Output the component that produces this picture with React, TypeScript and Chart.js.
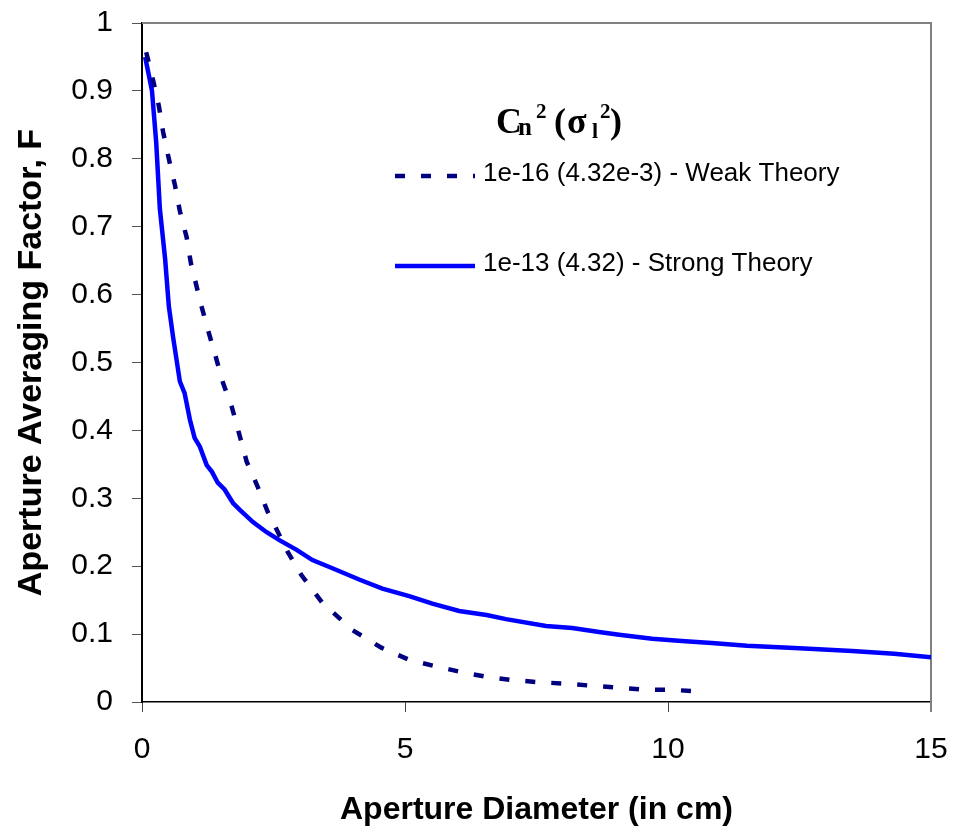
import React, { useEffect, useRef } from "react";
import { Chart, registerables } from "chart.js";

Chart.register(...registerables);

// Weak theory (Cn2 = 1e-16)
const weakX = [0.08, 0.21, 0.32, 0.4, 0.51, 0.63, 0.72, 0.85, 0.93, 1.0, 1.12, 1.25, 1.4, 1.54, 1.71, 1.84, 1.99, 2.2, 2.39, 2.56, 2.77, 3.03, 3.43, 4.0, 4.55, 5.08, 5.56, 6.07, 6.56, 7.08, 7.58, 8.06, 8.54, 9.05, 9.58, 10.06, 10.7];
const weakY = [0.957, 0.916, 0.878, 0.84, 0.8, 0.76, 0.723, 0.684, 0.646, 0.624, 0.586, 0.549, 0.509, 0.47, 0.434, 0.397, 0.354, 0.317, 0.28, 0.254, 0.221, 0.187, 0.146, 0.106, 0.08, 0.062, 0.053, 0.044, 0.037, 0.032, 0.029, 0.027, 0.024, 0.021, 0.018, 0.018, 0.015];

// Strong theory (Cn2 = 1e-13)
const strongX = [0.06, 0.19, 0.27, 0.34, 0.44, 0.51, 0.59, 0.72, 0.81, 0.91, 1.0, 1.1, 1.23, 1.33, 1.44, 1.57, 1.73, 1.86, 2.11, 2.37, 2.62, 2.94, 3.24, 3.62, 4.14, 4.57, 5.08, 5.52, 6.03, 6.55, 6.92, 7.68, 8.18, 8.69, 9.07, 9.7, 10.26, 10.83, 11.5, 12.5, 13.5, 14.3, 15];
const strongY = [0.95, 0.9, 0.824, 0.726, 0.652, 0.583, 0.538, 0.472, 0.455, 0.416, 0.389, 0.376, 0.349, 0.339, 0.323, 0.313, 0.293, 0.283, 0.265, 0.25, 0.238, 0.224, 0.209, 0.197, 0.18, 0.167, 0.156, 0.145, 0.134, 0.128, 0.122, 0.112, 0.109, 0.103, 0.099, 0.093, 0.09, 0.087, 0.083, 0.079, 0.075, 0.071, 0.066];

const seriesLabels = ["1e-16 (4.32e-3) - Weak Theory", "1e-13 (4.32) - Strong Theory"];
const seriesColors = ["#000080", "#0000FF"];
const xTitle = "Aperture Diameter (in cm)";
const yTitle = "Aperture Averaging Factor, F";

const SANS = "'Liberation Sans', Arial, sans-serif";
const SERIF = "'Liberation Serif', 'Times New Roman', serif";

export default function App() {
  const ref = useRef<HTMLCanvasElement>(null);

  useEffect(() => {
    if (!ref.current) return;

    const framePlugin = {
      id: "frame",
      beforeDatasetsDraw(chart: any) {
        const { ctx, chartArea: a } = chart;
        ctx.save();
        ctx.strokeStyle = "#808080";
        ctx.lineWidth = 2;
        ctx.beginPath();
        ctx.moveTo(a.left, a.top);
        ctx.lineTo(a.right, a.top);
        ctx.lineTo(a.right, a.bottom + 10);
        ctx.stroke();
        ctx.restore();
      },
    };

    const legendPlugin = {
      id: "customLegend",
      afterDraw(chart: any) {
        const ctx = chart.ctx as CanvasRenderingContext2D;
        ctx.save();
        ctx.fillStyle = "#000";
        ctx.textBaseline = "alphabetic";
        ctx.textAlign = "left";
        // Title: Cn^2 (σl^2)
        const runs: [string, number, number, number][] = [
          ["C", 36, 496, 133],
          ["n", 25, 518, 135],
          ["2", 21, 536, 118],
          ["(", 36, 554, 133],
          ["σ", 36, 567, 133],
          ["l", 22, 592, 138],
          ["2", 21, 600, 118],
          [")", 36, 610, 133],
        ];
        for (const [t, s, x, y] of runs) {
          ctx.font = `bold ${s}px ${SERIF}`;
          ctx.fillText(t, x, y);
        }
        // Entries
        const entries = [
          { y: 176, dash: [10, 16] },
          { y: 266, dash: [] as number[] },
        ];
        entries.forEach((e, i) => {
          ctx.strokeStyle = seriesColors[i];
          ctx.lineWidth = 4.5;
          ctx.setLineDash(e.dash);
          ctx.lineCap = "butt";
          ctx.beginPath();
          ctx.moveTo(395, e.y);
          ctx.lineTo(475, e.y);
          ctx.stroke();
          ctx.setLineDash([]);
          ctx.font = `26px ${SANS}`;
          ctx.fillStyle = "#000";
          ctx.textBaseline = "middle";
          ctx.fillText(seriesLabels[i], 483, e.y - 2);
        });
        ctx.restore();
      },
    };

    const chart = new Chart(ref.current, {
      type: "line",
      data: {
        datasets: [
          {
            label: seriesLabels[0],
            data: weakX.map((x, i) => ({ x, y: weakY[i] })),
            borderColor: seriesColors[0],
            borderWidth: 4.5,
            borderDash: [10, 16],
            borderCapStyle: "butt",
            pointRadius: 0,
            tension: 0,
            fill: false,
          },
          {
            label: seriesLabels[1],
            data: strongX.map((x, i) => ({ x, y: strongY[i] })),
            borderColor: seriesColors[1],
            borderWidth: 4.5,
            pointRadius: 0,
            tension: 0,
            fill: false,
          },
        ],
      },
      options: {
        animation: false,
        responsive: false,
        maintainAspectRatio: false,
        layout: { padding: { top: 23, right: 23, left: 0, bottom: 0 } },
        plugins: {
          legend: { display: false },
          tooltip: { enabled: false },
        },
        scales: {
          x: {
            type: "linear",
            min: 0,
            max: 15,
            afterFit: (s: any) => {
              s.height = 128;
              s.paddingLeft = 0;
              s.paddingRight = 0;
            },
            border: { display: true, color: "#000", width: 1.5 },
            grid: {
              display: true,
              drawOnChartArea: false,
              drawTicks: true,
              tickLength: 10,
              tickColor: "#444",
            },
            ticks: {
              stepSize: 5,
              color: "#000",
              padding: 20,
              maxRotation: 0,
              font: { family: SANS, size: 30 },
            },
            title: {
              display: true,
              text: xTitle,
              color: "#000",
              font: { family: SANS, size: 32, weight: "bold" },
              padding: { top: 0, bottom: 1 },
            },
          },
          y: {
            type: "linear",
            min: 0,
            max: 1,
            afterFit: (s: any) => {
              s.width = 142;
              s.paddingTop = 0;
              s.paddingBottom = 0;
            },
            border: { display: true, color: "#000", width: 2 },
            grid: {
              display: true,
              drawOnChartArea: false,
              drawTicks: true,
              tickLength: 10,
              tickColor: "#555",
            },
            ticks: {
              stepSize: 0.1,
              color: "#000",
              padding: 19,
              font: { family: SANS, size: 30 },
              callback: (v: any) => Number(v).toFixed(1).replace(/\.0$/, ""),
            },
            title: {
              display: true,
              text: yTitle,
              color: "#000",
              font: { family: SANS, size: 34, weight: "bold" },
              padding: { top: 11, bottom: 0 },
            },
          },
        },
      },
      plugins: [framePlugin, legendPlugin],
    } as any);

    return () => chart.destroy();
  }, []);

  return (
    <div style={{ position: "absolute", left: 0, top: 0, width: 954, height: 830, background: "#fff" }}>
      <canvas ref={ref} width={954} height={830} style={{ display: "block" }} />
    </div>
  );
}
